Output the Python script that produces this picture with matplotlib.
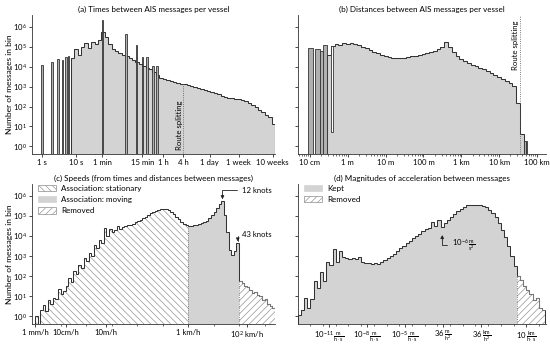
import numpy as np
import matplotlib

matplotlib.use("Agg")
import matplotlib.pyplot as plt
from matplotlib.patches import Patch
from matplotlib.ticker import LogLocator, NullFormatter, NullLocator
from matplotlib.transforms import blended_transform_factory

FILL = "#d3d3d3"
EDGE = "#333333"
HATCH = "#8c8c8c"
BASE = 0.01

plt.rcParams.update(
    {
        "font.family": ["Lato", "DejaVu Sans"],
        "mathtext.fontset": "custom",
        "mathtext.rm": "Lato",
        "mathtext.it": "Lato:italic",
        "mathtext.bf": "Lato:bold",
        "font.size": 5.5,
        "axes.linewidth": 0.6,
        "axes.edgecolor": "#333333",
        "xtick.direction": "out",
        "ytick.direction": "out",
        "xtick.major.size": 2.0,
        "ytick.major.size": 2.0,
        "xtick.minor.size": 1.2,
        "ytick.minor.size": 1.0,
        "xtick.major.width": 0.5,
        "ytick.major.width": 0.5,
        "xtick.minor.width": 0.4,
        "ytick.minor.width": 0.4,
        "xtick.major.pad": 1.5,
        "ytick.major.pad": 1.5,
        "xtick.labelsize": 5.6,
        "ytick.labelsize": 5.6,
        "hatch.linewidth": 0.45,
        "axes.spines.top": False,
        "axes.spines.right": False,
    }
)

# ---- (a) times between messages: log10 seconds, counts as log10 ----
TIME_START, TIME_STEP = 0.85, 0.1
TIME_COUNTS = [
    4.43, 4.90, 4.60, 4.98, 5.20, 4.95, 5.24, 5.15, 5.32, 5.74,
    5.50, 5.15, 4.90, 4.77, 4.68, 4.60, 4.52, 4.43, 4.33, 4.22,
    4.12, 4.05, 3.95, 3.87, 3.72, 3.57, 3.45, 3.38, 3.32, 3.28,
    3.25, 3.20, 3.15, 3.12, 3.08, 3.02, 2.98, 2.92, 2.88, 2.82,
    2.78, 2.73, 2.68, 2.62, 2.55, 2.48, 2.44, 2.42, 2.40, 2.37,
    2.33, 2.28, 2.20, 2.10, 1.98, 1.85, 1.72, 1.60, 1.45, 1.10,
]
TIME_SPIKES_S = [1, 2, 3, 4, 5, 6, 60, 300, 600, 900, 1200, 1800, 2400]
TIME_SPIKES_N = [4.10, 4.25, 4.40, 4.35, 4.50, 4.55, 6.33, 5.65, 5.10, 4.48, 4.48, 4.05, 4.05]
TIME_TICKS = [1, 10, 60, 900, 3600, 14400, 86400, 604800, 6048000]
TIME_LABELS = ["1 s", "10 s", "1 min", "15 min", "1 h", "4 h", "1 day", "1 week", "10 weeks"]
TIME_SPLIT = 14400

# ---- (b) distances between messages: log10 metres ----
DIST_START, DIST_STEP = -0.55, 0.1
DIST_COUNTS = [
    4.56, 5.05, 5.12, 5.08, 5.18, 5.15, 5.20, 5.13, 5.08, 5.00,
    4.92, 4.85, 4.75, 4.66, 4.58, 4.52, 4.47, 4.43, 4.41, 4.41,
    4.43, 4.47, 4.52, 4.55, 4.58, 4.63, 4.68, 4.73, 4.80, 4.88,
    5.00, 5.22, 4.98, 4.72, 4.52, 4.38, 4.27, 4.18, 4.10, 4.02,
    3.95, 3.87, 3.78, 3.68, 3.58, 3.48, 3.38, 3.28, 3.18, 3.02,
    2.20, 0.60,
]
DIST_BARS_LO = [-1.05, -0.87, -0.74, -0.65, 4.65, 4.70]
DIST_BARS_HI = [-0.92, -0.74, -0.65, -0.55, 4.70, 4.75]
DIST_BARS_N = [4.93, 4.86, 4.76, 5.07, 0.27, 0.27]
DIST_NOTCH = (-0.44, -0.39, 0.70)
DIST_TICKS = [0.1, 1, 10, 100, 1e3, 1e4, 1e5]
DIST_LABELS = ["10 cm", "1 m", "10 m", "100 m", "1 km", "10 km", "100 km"]
DIST_SPLIT = 10 ** 4.54

# ---- (c) speeds: log10 km/h ----
SPEED_START, SPEED_STEP = -6.0, 0.1
SPEED_STATIONARY = [
    0.00, -1.0, 0.30, 0.55, 0.25, 0.80, 0.60, 0.90, 0.85, 1.35,
    1.10, 1.25, 1.50, 1.90, 1.70, 2.25, 2.10, 2.55, 2.40, 2.90,
    2.75, 3.15, 3.00, 3.55, 3.40, 3.80, 3.65, 4.40, 4.00, 4.35,
    4.20, 4.30, 4.50, 4.35, 4.45, 4.50, 4.52, 4.55, 4.60, 4.67,
    4.74, 4.80, 4.88, 4.96, 5.05, 5.12, 5.18, 5.24, 5.29, 5.32,
    5.35, 5.35, 5.30, 5.20, 5.10, 4.95, 4.82, 4.70, 4.60, 4.53,
]
SPEED_MOVING = [
    4.50, 4.50, 4.52, 4.55, 4.58, 4.62, 4.68, 4.76, 4.90, 5.05,
    5.20, 5.40, 5.60, 5.72, 5.05, 4.20, 3.30, 3.05, 3.25, 3.65,
]
SPEED_REMOVED = [1.75, 1.65, 1.50, 1.45, 1.30, 1.15, 1.20, 1.05, 1.00, 0.80, 0.85, 0.60, 0.50, 0.40]
SPEED_TICKS = [1e-6, 10 ** -4.78, 10 ** -3.22, 1, 10 ** 2.3]
SPEED_LABELS = ["1 mm/h", "10cm/h", "10m/h", "1 km/h", "10$^2$ km/h"]
KNOTS_12 = (10 ** 1.35, 10 ** 5.82)
KNOTS_43 = (10 ** 1.95, 10 ** 3.72)

# ---- (d) accelerations: log10 m/s^2 ----
ACC_START, ACC_STEP = -17.0, 0.25
ACC_KEPT = [
    0.05, 0.34, 0.92, 0.43, 0.89, 1.74, 1.41, 2.23, 1.74, 2.72,
    2.56, 3.33, 2.72, 3.27, 2.94, 2.92, 2.86, 2.90, 2.84, 2.94,
    2.70, 2.64, 2.66, 2.60, 2.64, 2.62, 2.72, 2.78, 2.90, 3.00,
    3.12, 3.25, 3.38, 3.50, 3.65, 3.75, 3.88, 4.00, 4.12, 4.22,
    4.32, 4.40, 4.68, 4.50, 4.78, 4.42, 4.65, 4.80, 4.95, 5.10,
    5.22, 5.35, 5.45, 5.52, 5.55, 5.55, 5.54, 5.52, 5.48, 5.42,
    5.30, 5.15, 4.95, 4.65, 4.30, 3.95, 3.50, 3.00, 2.50,
]
ACC_REMOVED = [2.00, 1.80, 1.50, 1.30, 1.10, 0.80, 0.90, 0.40, 0.30]
ACC_TICKS = [1e-11 / 3600, 1e-8 / 3600, 1e-5 / 3600, 36 / 3600**2, 36000 / 3600**2, 10 ** 1.0]
ACC_LABELS = [
    r"$10^{-11}\,\frac{\mathrm{m}}{\mathrm{h\cdot s}}$",
    r"$10^{-8}\,\frac{\mathrm{m}}{\mathrm{h\cdot s}}$",
    r"$10^{-5}\,\frac{\mathrm{m}}{\mathrm{h\cdot s}}$",
    r"$36\,\frac{\mathrm{m}}{\mathrm{h}^2}$",
    r"$36\,\frac{\mathrm{km}}{\mathrm{h}^2}$",
    r"$10\,\frac{\mathrm{km}}{\mathrm{h\cdot s}}$",
]
ACC_NOTE = (10 ** -5.62, 10 ** 4.05)


def edges_for(start, step, n):
    return 10 ** (start + step * np.arange(n + 1))


def fill_steps(ax, edges, logc, face=FILL, hatch=None):
    vals = 10 ** np.asarray(logc, dtype=float)
    ax.stairs(vals, edges, baseline=BASE, fill=True, facecolor=face,
              edgecolor=HATCH if hatch else face, hatch=hatch, linewidth=0)
    return vals


def outline(ax, edges, vals, color=EDGE, baseline=BASE):
    ax.stairs(vals, edges, baseline=baseline, color=color, linewidth=0.75)


def bars(ax, lo, hi, logc, face="#b0b0b0"):
    lo = 10 ** np.asarray(lo)
    hi = 10 ** np.asarray(hi)
    top = 10 ** np.asarray(logc)
    ax.bar(lo, top - BASE, width=hi - lo, bottom=BASE, align="edge",
           facecolor=face, edgecolor=EDGE, linewidth=0.6)


def style(ax, xlim, ticks, labels, left=True, decade_minor=False):
    ax.set_xscale("log")
    ax.set_yscale("log")
    ax.set_xlim(*xlim)
    ax.set_ylim(0.42, 3.8e6)
    ax.set_xticks(ticks)
    ax.set_xticklabels(labels)
    if decade_minor:
        ax.xaxis.set_minor_locator(LogLocator(base=10, subs=(1.0,), numticks=40))
    else:
        ax.xaxis.set_minor_locator(NullLocator())
    ax.xaxis.set_minor_formatter(NullFormatter())
    ax.set_yticks([10.0 ** k for k in range(7)])
    ax.yaxis.set_minor_locator(NullLocator())
    if not left:
        ax.tick_params(axis="y", labelleft=False)
    else:
        ax.set_ylabel("Number of messages in bin", fontsize=6)
        ax.yaxis.set_label_coords(-0.08, 0.5)


def legend(ax, handles):
    ax.legend(handles=handles, loc="upper left", frameon=False, fontsize=5.8,
              handlelength=2.2, handleheight=0.9, handletextpad=0.7,
              labelspacing=0.5, borderaxespad=0.2, bbox_to_anchor=(0.005, 1.03))


fig = plt.figure(figsize=(5.5, 3.45), dpi=100)
W, H = 550.0, 345.0
ax_a = fig.add_axes([32 / W, (H - 154) / H, 243 / W, 139 / H])
ax_b = fig.add_axes([298 / W, (H - 154) / H, 248 / W, 139 / H])
ax_c = fig.add_axes([32 / W, (H - 324) / H, 243 / W, 140 / H])
ax_d = fig.add_axes([298 / W, (H - 324) / H, 248 / W, 140 / H])

# (a)
edges = edges_for(TIME_START, TIME_STEP, len(TIME_COUNTS))
vals = fill_steps(ax_a, edges, TIME_COUNTS)
outline(ax_a, edges, vals)
lc = np.log10(TIME_SPIKES_S)
bars(ax_a, lc - 0.025, lc + 0.025, TIME_SPIKES_N)
style(ax_a, (0.51, 7.1e6), TIME_TICKS, TIME_LABELS)
split_val = vals[np.searchsorted(edges, TIME_SPLIT) - 1]
ax_a.vlines(TIME_SPLIT, BASE, split_val, colors="#555555", linestyles=":", linewidth=0.6)
tr = blended_transform_factory(ax_a.transData, ax_a.transAxes)
ax_a.text(TIME_SPLIT / 1.03, 0.21, "Route splitting", rotation=90, ha="right",
          va="center", transform=tr, fontsize=5.6)
ax_a.set_title("(a) Times between AIS messages per vessel", fontsize=5.8, pad=2.5)

# (b)
edges = edges_for(DIST_START, DIST_STEP, len(DIST_COUNTS))
vals = fill_steps(ax_b, edges, DIST_COUNTS)
outline(ax_b, edges, vals)
bars(ax_b, DIST_BARS_LO, DIST_BARS_HI, DIST_BARS_N)
nlo, nhi, nval = DIST_NOTCH
ax_b.bar(10 ** nlo, 10 ** 5.05 - 10 ** nval, width=10 ** nhi - 10 ** nlo,
         bottom=10 ** nval, align="edge", facecolor="white", edgecolor=EDGE, linewidth=0.6)
style(ax_b, (10 ** -1.317, 10 ** 5.24), DIST_TICKS, DIST_LABELS, left=False)
ax_b.xaxis.set_minor_locator(LogLocator(base=10, subs=(2, 3, 4, 5, 6, 7, 8, 9), numticks=40))
ax_b.axvline(DIST_SPLIT, color="#555555", linestyle=":", linewidth=0.6)
tr = blended_transform_factory(ax_b.transData, ax_b.transAxes)
ax_b.text(DIST_SPLIT / 1.05, 0.78, "Route splitting", rotation=90, ha="right",
          va="center", transform=tr, fontsize=5.6)
ax_b.set_title("(b) Distances between AIS messages per vessel", fontsize=5.8, pad=2.5)

# (c)
n_s, n_m, n_r = len(SPEED_STATIONARY), len(SPEED_MOVING), len(SPEED_REMOVED)
edges = edges_for(SPEED_START, SPEED_STEP, n_s + n_m + n_r)
hatch_s, hatch_r = "\\\\\\\\\\", "/////"
v_s = fill_steps(ax_c, edges[: n_s + 1], SPEED_STATIONARY, face="white", hatch=hatch_s)
v_m = fill_steps(ax_c, edges[n_s: n_s + n_m + 1], SPEED_MOVING)
v_r = fill_steps(ax_c, edges[n_s + n_m:], SPEED_REMOVED, face="white", hatch=hatch_r)
outline(ax_c, edges, np.concatenate([v_s, v_m, v_r]))
outline(ax_c, edges[n_s + n_m:], v_r, color="#7a7a7a", baseline=None)
ax_c.vlines([edges[n_s], edges[n_s + n_m]], BASE, [v_s[-1], v_r[0]],
            colors="#666666", linestyles=":", linewidth=0.6)
style(ax_c, (10 ** -6.12, 10 ** 3.41), SPEED_TICKS, SPEED_LABELS, decade_minor=True)
arrow = dict(arrowstyle="-|>", color="#222222", lw=0.6, mutation_scale=5,
             shrinkA=1.5, shrinkB=0, connectionstyle="angle,angleA=0,angleB=90,rad=0")
ax_c.annotate("12 knots", xy=KNOTS_12, xytext=(10 ** 2.1, 10 ** 6.26), ha="left",
              va="center", arrowprops=arrow, fontsize=5.6)
ax_c.annotate("43 knots", xy=KNOTS_43, xytext=(10 ** 2.1, 10 ** 4.09), ha="left",
              va="center", arrowprops=arrow, fontsize=5.6)
legend(ax_c, [
    Patch(facecolor="white", edgecolor=HATCH, hatch=hatch_s, lw=0.5, label="Association: stationary"),
    Patch(facecolor=FILL, edgecolor=FILL, lw=0.5, label="Association: moving"),
    Patch(facecolor="white", edgecolor=HATCH, hatch=hatch_r, lw=0.5, label="Removed"),
])
ax_c.set_title("(c) Speeds (from times and distances between messages)", fontsize=5.8, pad=2.5)

# (d)
n_k, n_r = len(ACC_KEPT), len(ACC_REMOVED)
edges = edges_for(ACC_START, ACC_STEP, n_k + n_r)
v_k = fill_steps(ax_d, edges[: n_k + 1], ACC_KEPT)
v_r = fill_steps(ax_d, edges[n_k:], ACC_REMOVED, face="white", hatch=hatch_r)
outline(ax_d, edges, np.concatenate([v_k, v_r]))
outline(ax_d, edges[n_k:], v_r, color="#7a7a7a", baseline=None)
ax_d.vlines(edges[n_k], BASE, v_r[0], colors="#666666", linestyles=":", linewidth=0.6)
style(ax_d, (10 ** -16.97, 10 ** 2.55), ACC_TICKS, ACC_LABELS, left=False, decade_minor=True)
ax_d.annotate(r"$10^{-6}\,\frac{\mathrm{m}}{\mathrm{s}^2}$", xy=ACC_NOTE,
              xytext=(10 ** -4.87, 10 ** 3.55), ha="left", va="center",
              arrowprops=arrow, fontsize=5.6)
legend(ax_d, [
    Patch(facecolor=FILL, edgecolor=FILL, lw=0.5, label="Kept"),
    Patch(facecolor="white", edgecolor=HATCH, hatch=hatch_r, lw=0.5, label="Removed"),
])
ax_d.set_title("(d) Magnitudes of acceleration between messages", fontsize=5.8, pad=2.5)

fig.savefig("out.png", dpi=100)
